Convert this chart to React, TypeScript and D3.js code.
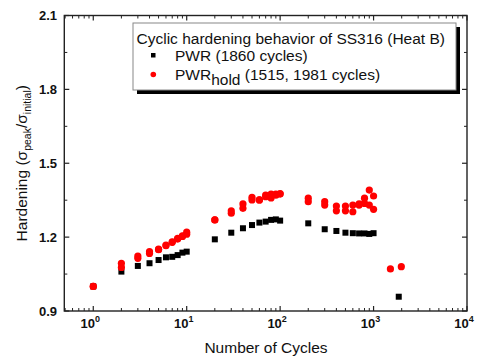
import React from "react";
import * as d3 from "d3";

const cycles = [1, 2, 3, 4, 5, 6, 7, 8, 9, 10, 20, 30, 40, 50, 60, 70, 80, 90, 100, 200, 300, 400, 500, 600, 700, 800, 900, 1000];
const pwr = [1.0, 1.06, 1.083, 1.094, 1.107, 1.118, 1.12, 1.127, 1.137, 1.141, 1.191, 1.218, 1.236, 1.249, 1.259, 1.263, 1.27, 1.272, 1.267, 1.256, 1.232, 1.225, 1.218, 1.216, 1.215, 1.215, 1.213, 1.216];
const pwrEndCycles = [1860];
const pwrEnd = [0.958];
const holdA = [1.0, 1.094, 1.123, 1.141, 1.151, 1.168, 1.181, 1.195, 1.205, 1.22, 1.27, 1.307, 1.335, 1.362, 1.351, 1.371, 1.375, 1.375, 1.377, 1.358, 1.344, 1.326, 1.326, 1.33, 1.335, 1.358, 1.391, 1.367];
const holdB = [1.0, 1.077, 1.114, 1.134, 1.149, 1.165, 1.179, 1.192, 1.203, 1.212, 1.27, 1.297, 1.317, 1.351, 1.351, 1.364, 1.359, 1.37, 1.375, 1.344, 1.33, 1.307, 1.307, 1.303, 1.33, 1.337, 1.33, 1.313];
const holdEndCycles = [1515, 1981];
const holdEnd = [1.071, 1.08];

const xMajor = [1, 10, 100, 1000, 10000];
const xExp = ["0", "1", "2", "3", "4"];
const yMajor = [0.9, 1.2, 1.5, 1.8, 2.1];
const yMinor = [1.05, 1.35, 1.65, 1.95];

const L = 64.3, R = 467, T = 15.5, B = 311;

export default function App() {
  const x = d3.scaleLog().domain([Math.pow(10, -0.31), 1e4]).range([L, R]);
  const y = d3.scaleLinear().domain([0.9, 2.1]).range([B, T]);
  const xMinor: number[] = [];
  for (let e = -1; e < 4; e++) for (let m = 2; m <= 9; m++) {
    const v = m * Math.pow(10, e);
    if (v >= x.domain()[0]) xMinor.push(v);
  }
  const font = "Arial, 'Liberation Sans', sans-serif";
  const stroke = "#222";
  const red = "#ff0000";
  const holdAll = [
    ...cycles.map((c, i) => ({ c, v: holdB[i] })),
    ...cycles.map((c, i) => ({ c, v: holdA[i] })),
    ...holdEndCycles.map((c, i) => ({ c, v: holdEnd[i] })),
  ];
  const pwrAll = [
    ...cycles.map((c, i) => ({ c, v: pwr[i] })),
    ...pwrEndCycles.map((c, i) => ({ c, v: pwrEnd[i] })),
  ];
  const sq = 6;
  return (
    <svg width={484} height={358} style={{ position: "absolute", left: 0, top: 0, background: "#fff" }} fontFamily={font}>
      <rect x={0} y={0} width={484} height={358} fill="#fff" />
      {/* data */}
      {pwrAll.map((d, i) => (
        <rect key={"p" + i} x={x(d.c) - sq / 2} y={y(d.v) - sq / 2} width={sq} height={sq} fill="#000" />
      ))}
      {holdAll.map((d, i) => (
        <circle key={"h" + i} cx={x(d.c)} cy={y(d.v)} r={3.6} fill={red} />
      ))}
      {/* frame */}
      <rect x={L} y={T} width={R - L} height={B - T} fill="none" stroke={stroke} strokeWidth={1.4} />
      {/* x ticks */}
      {xMajor.map((v) => (
        <g key={"xm" + v}>
          <line x1={x(v)} x2={x(v)} y1={B} y2={B - 5} stroke={stroke} strokeWidth={1.2} />
          <line x1={x(v)} x2={x(v)} y1={T} y2={T + 5} stroke={stroke} strokeWidth={1.2} />
        </g>
      ))}
      {xMinor.map((v) => (
        <g key={"xn" + v}>
          <line x1={x(v)} x2={x(v)} y1={B} y2={B - 3} stroke={stroke} strokeWidth={1} />
          <line x1={x(v)} x2={x(v)} y1={T} y2={T + 3} stroke={stroke} strokeWidth={1} />
        </g>
      ))}
      {yMajor.map((v) => (
        <g key={"ym" + v}>
          <line x1={L} x2={L + 5} y1={y(v)} y2={y(v)} stroke={stroke} strokeWidth={1.2} />
          <line x1={R} x2={R - 5} y1={y(v)} y2={y(v)} stroke={stroke} strokeWidth={1.2} />
        </g>
      ))}
      {yMinor.map((v) => (
        <g key={"yn" + v}>
          <line x1={L} x2={L + 3} y1={y(v)} y2={y(v)} stroke={stroke} strokeWidth={1} />
          <line x1={R} x2={R - 3} y1={y(v)} y2={y(v)} stroke={stroke} strokeWidth={1} />
        </g>
      ))}
      {/* tick labels */}
      {yMajor.map((v) => (
        <text key={"yl" + v} x={57} y={y(v) + 4.5} textAnchor="end" fontSize={13} fontWeight="bold" fill="#111">
          {v.toFixed(1)}
        </text>
      ))}
      {xMajor.map((v, i) => (
        <text key={"xl" + v} x={x(v) - 3} y={328} textAnchor="middle" fontSize={13} fontWeight="bold" fill="#111">
          10<tspan dy={-6} fontSize={9}>{xExp[i]}</tspan>
        </text>
      ))}
      {/* axis titles */}
      <text x={266} y={353} textAnchor="middle" fontSize={15.5} fill="#111">Number of Cycles</text>
      <text transform={`translate(27,${(T + B) / 2}) rotate(-90)`} textAnchor="middle" fontSize={15.5} fill="#111">
        Hardening (σ<tspan dy={4} fontSize={10.5}>peak</tspan><tspan dy={-4}>/σ</tspan><tspan dy={4} fontSize={10.5}>initial</tspan><tspan dy={-4}>)</tspan>
      </text>
      {/* legend */}
      <rect x={137} y={27} width={323} height={67} fill="#000" />
      <rect x={133} y={23} width={323} height={67} fill="#fff" stroke="#888" strokeWidth={1} />
      <text x={136.5} y={43.5} fontSize={15.5} fill="#111">Cyclic hardening behavior of SS316 (Heat B)</text>
      <rect x={151} y={53} width={4.5} height={4.5} fill="#000" />
      <text x={175} y={61} fontSize={15.5} fill="#111">PWR (1860 cycles)</text>
      <circle cx={153.3} cy={74.5} r={2.8} fill={red} />
      <text x={175} y={80} fontSize={15.5} fill="#111">
        PWR<tspan dy={4.5}>hold</tspan><tspan dy={-4.5}> (1515, 1981 cycles)</tspan>
      </text>
    </svg>
  );
}
